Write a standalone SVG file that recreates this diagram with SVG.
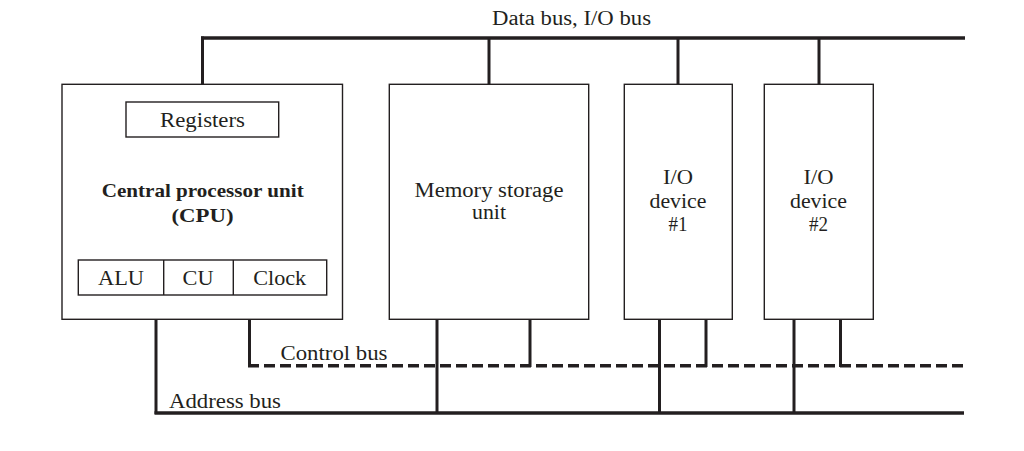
<svg xmlns="http://www.w3.org/2000/svg" width="1024" height="451" viewBox="0 0 1024 451">
<style>
.box{fill:#fff;stroke:#231f20;stroke-width:1.4}
.t{font-family:"Liberation Serif","Times New Roman",serif;font-size:20px;fill:#231f20;text-anchor:middle}
.b{font-weight:bold;font-size:19px}
.bus{stroke:#231f20;stroke-width:3.5;fill:none}
.tap{stroke:#231f20;stroke-width:3;fill:none}
.dash{stroke-dasharray:11 5}
</style>
<rect width="1024" height="451" fill="#fff"/>
<g id="connectors">
<line class="bus" x1="201" y1="38" x2="965" y2="38"/>
<line class="tap" x1="202.5" y1="36.5" x2="202.5" y2="84"/>
<line class="tap" x1="489" y1="38" x2="489" y2="84"/>
<line class="tap" x1="678" y1="38" x2="678" y2="84"/>
<line class="tap" x1="819" y1="38" x2="819" y2="84"/>
<line class="tap" x1="156" y1="319" x2="156" y2="414"/>
<line class="tap" x1="249.5" y1="319" x2="249.5" y2="367"/>
<line class="tap" x1="437" y1="319" x2="437" y2="413"/>
<line class="tap" x1="530" y1="319" x2="530" y2="367"/>
<line class="tap" x1="659.5" y1="319" x2="659.5" y2="413"/>
<line class="tap" x1="706" y1="319" x2="706" y2="367"/>
<line class="tap" x1="794" y1="319" x2="794" y2="413"/>
<line class="tap" x1="840.5" y1="319" x2="840.5" y2="367"/>
<line class="bus dash" x1="248" y1="365.7" x2="964" y2="365.7"/>
<line class="bus" x1="154.5" y1="413" x2="964" y2="413"/>
<text class="t" x="571.5" y="25" textLength="159" lengthAdjust="spacingAndGlyphs">Data bus, I/O bus</text>
<text class="t" x="334" y="360" textLength="107" lengthAdjust="spacingAndGlyphs">Control bus</text>
<text class="t" x="225" y="408" textLength="112" lengthAdjust="spacingAndGlyphs">Address bus</text>
</g>
<g id="cpu">
<rect class="box" x="62" y="84.3" width="280.5" height="235"/>
<rect class="box" x="126" y="102" width="152.7" height="35"/>
<text class="t" x="202.5" y="126.7" textLength="85" lengthAdjust="spacingAndGlyphs">Registers</text>
<text class="t b" x="202.7" y="196.5" textLength="202" lengthAdjust="spacingAndGlyphs">Central processor unit</text>
<text class="t b" x="202.5" y="221.5" textLength="62" lengthAdjust="spacingAndGlyphs">(CPU)</text>
<rect class="box" x="78.3" y="260" width="248.4" height="35"/>
<line class="box" x1="163.7" y1="260" x2="163.7" y2="295"/>
<line class="box" x1="233.3" y1="260" x2="233.3" y2="295"/>
<text class="t" x="121" y="285" textLength="46" lengthAdjust="spacingAndGlyphs">ALU</text>
<text class="t" x="198" y="285" textLength="31" lengthAdjust="spacingAndGlyphs">CU</text>
<text class="t" x="279.7" y="285" textLength="53" lengthAdjust="spacingAndGlyphs">Clock</text>
</g>
<g id="memory">
<rect class="box" x="389.3" y="84.3" width="199.4" height="235"/>
<text class="t" x="489" y="196.7" textLength="149" lengthAdjust="spacingAndGlyphs">Memory storage</text>
<text class="t" x="489" y="219.3" textLength="34" lengthAdjust="spacingAndGlyphs">unit</text>
</g>
<g id="io1">
<rect class="box" x="624.3" y="84.3" width="108" height="235"/>
<text class="t" x="678" y="184.3" textLength="30" lengthAdjust="spacingAndGlyphs">I/O</text>
<text class="t" x="678" y="207.7" textLength="57" lengthAdjust="spacingAndGlyphs">device</text>
<text class="t" x="678" y="231" textLength="19" lengthAdjust="spacingAndGlyphs">#1</text>
</g>
<g id="io2">
<rect class="box" x="764.3" y="84.3" width="109" height="235"/>
<text class="t" x="818.5" y="184.3" textLength="30" lengthAdjust="spacingAndGlyphs">I/O</text>
<text class="t" x="818.5" y="207.7" textLength="57" lengthAdjust="spacingAndGlyphs">device</text>
<text class="t" x="818.5" y="231" textLength="19" lengthAdjust="spacingAndGlyphs">#2</text>
</g>
</svg>
